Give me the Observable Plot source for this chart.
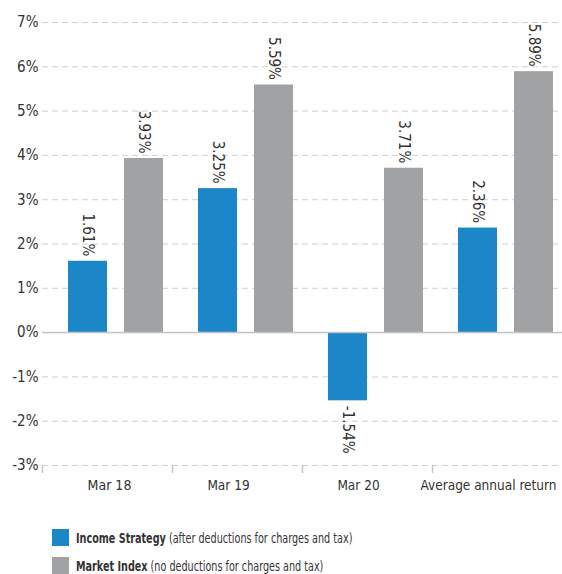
<!DOCTYPE html>
<html>
<head>
<meta charset="utf-8">
<script src="https://cdn.jsdelivr.net/npm/d3@7"></script>
<script src="https://cdn.jsdelivr.net/npm/@observablehq/plot@0.6"></script>
<style>
  html, body { margin: 0; padding: 0; background: #fff; overflow: hidden; }
  body { width: 562px; height: 574px; }
  #chart svg { display: block; }
  .legend { margin-top: 29px; font-family: "DejaVu Sans Condensed", "DejaVu Sans", sans-serif; font-size: 14px; color: #333; }
  .legend .row { display: flex; align-items: center; height: 17px; margin-bottom: 11px; padding-left: 52px; }
  .legend .sw { width: 17px; height: 17px; margin-right: 7px; flex: none; }
  .legend .txt { display: inline-block; white-space: nowrap; transform: scaleX(0.765); transform-origin: 0 50%; }
  .legend b { font-weight: bold; }
</style>
</head>
<body>
<div id="chart"></div>
<div class="legend" id="legend"></div>
<script>
const periods = ["Mar 18", "Mar 19", "Mar 20", "Average annual return"];
const seriesNames = ["Income Strategy", "Market Index"];
const seriesNotes = ["(after deductions for charges and tax)", "(no deductions for charges and tax)"];
const incomeValues = [1.61, 3.25, -1.54, 2.36];
const marketValues = [3.93, 5.59, 3.71, 5.89];
const yTicks = [-3, -2, -1, 0, 1, 2, 3, 4, 5, 6, 7];
const seriesColors = ["#1b87c9", "#a1a2a4"];

const data = periods.flatMap((p, i) => [
  {period: p, series: seriesNames[0], value: incomeValues[i]},
  {period: p, series: seriesNames[1], value: marketValues[i]}
]);

const numFont = "'DejaVu Sans Condensed', 'DejaVu Sans', sans-serif";
const pct = d => d + "%";
const fmt = d => d.value.toFixed(2) + "%";

const chart = Plot.plot({
  width: 562,
  height: 500,
  marginLeft: 42,
  marginRight: 0,
  marginTop: 22,
  marginBottom: 35,
  style: {fontFamily: numFont, fontSize: "15px", color: "#333", background: "#fff"},
  fx: {domain: periods, padding: 0, label: null, axis: null},
  x: {domain: seriesNames, paddingInner: 0.3036, paddingOuter: 0.3125, align: 0.743, axis: null},
  y: {domain: [-3, 7], label: null},
  color: {domain: seriesNames, range: seriesColors},
  marks: [
    Plot.ruleY(yTicks, {y: d => d, stroke: "#cfcfcf", strokeWidth: 1, strokeDasharray: "6,4"}),
    Plot.axisY(yTicks, {tickSize: 0, tickPadding: 4, tickFormat: pct, fontSize: 15, fill: "#333", label: null}),
    Plot.barY(data, {fx: "period", x: "series", y: "value", fill: "series"}),
    Plot.ruleY([0], {stroke: "#c4c4c4", strokeWidth: 1.5}),
    Plot.text(data.filter(d => d.value >= 0), {fx: "period", x: "series", y: "value", text: fmt, rotate: 90, textAnchor: "end", dy: -5, fontSize: 15, fill: "#333"}),
    Plot.text(data.filter(d => d.value < 0), {fx: "period", x: "series", y: "value", text: fmt, rotate: 90, textAnchor: "start", dy: 5, fontSize: 15, fill: "#333"}),
    Plot.text(periods.slice(0, 1), {fx: d => d, text: d => d, frameAnchor: "bottom", lineAnchor: "top", dy: 15, dx: 2, fontSize: 14, fill: "#333"}),
    Plot.text(periods.slice(1), {fx: d => d, text: d => d, frameAnchor: "bottom", lineAnchor: "top", dy: 15, dx: -9, fontSize: 13.5, fill: "#333"})
  ]
});
document.getElementById("chart").appendChild(chart);

// small tick marks at the group boundaries, positioned from the library's scales
const fxs = chart.scale("fx");
const ys = chart.scale("y");
const svg = d3.select(chart);
const yBottom = ys.apply(yTicks[0]);
periods.forEach(p => {
  const x0 = fxs.apply(p);
  svg.append("line")
    .attr("x1", x0 + 0.5).attr("x2", x0 + 0.5)
    .attr("y1", yBottom).attr("y2", yBottom + 8)
    .attr("stroke", "#c4c4c4").attr("stroke-width", 1.5);
});

// legend
const legend = d3.select("#legend");
seriesNames.forEach((s, i) => {
  const row = legend.append("div").attr("class", "row");
  row.append("span").attr("class", "sw").style("background", seriesColors[i]);
  const t = row.append("span").attr("class", "txt");
  t.append("b").text(s);
  t.append("span").text(" " + seriesNotes[i]);
});
</script>
</body>
</html>
